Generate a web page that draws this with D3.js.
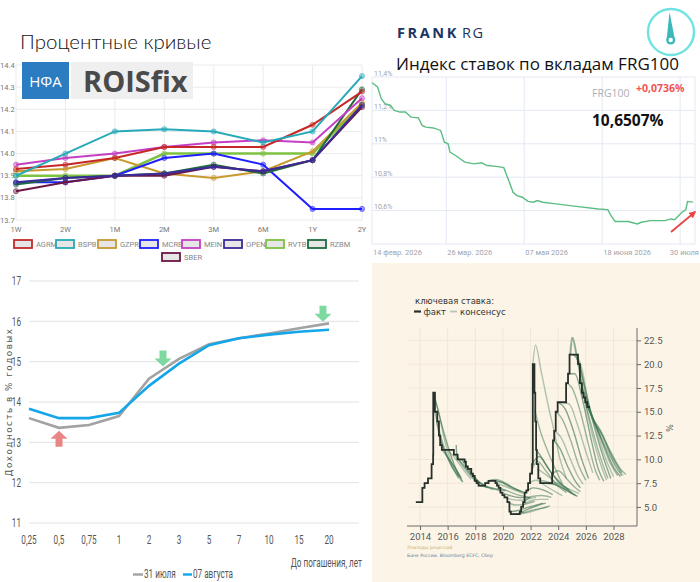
<!DOCTYPE html>
<html>
<head>
<meta charset="utf-8">
<script src="https://cdn.jsdelivr.net/npm/d3@7"></script>
<style>
  body { margin: 0; background: #fff; }
  svg { display: block; }
</style>
</head>
<body>
<svg id="chart" width="700" height="582"></svg>
<script>
// ---------- data: ROISfix curves (top left) ----------
var tenors = ["1W", "2W", "1M", "2M", "3M", "6M", "1Y", "2Y"];
var roisTicks = [13.7, 13.8, 13.9, 14.0, 14.1, 14.2, 14.3, 14.4];
var AGRM = [13.93, 13.95, 13.98, 14.03, 14.03, 14.03, 14.13, 14.28];
var BSPB = [13.90, 14.00, 14.10, 14.11, 14.10, 14.05, 14.10, 14.35];
var GZPR = [13.92, 13.93, 13.98, 13.91, 13.89, 13.92, 14.01, 14.23];
var MCRB = [13.87, 13.87, 13.90, 13.98, 14.00, 13.95, 13.75, 13.75];
var MEIN = [13.95, 13.98, 14.00, 14.03, 14.05, 14.06, 14.05, 14.25];
var OPEN = [13.87, 13.89, 13.90, 13.91, 13.94, 13.92, 13.97, 14.22];
var RVTB = [13.90, 13.90, 13.90, 14.00, 14.00, 14.00, 14.00, 14.22];
var RZBM = [13.86, 13.89, 13.90, 13.91, 13.95, 13.91, 13.97, 14.29];
var SBER = [13.83, 13.87, 13.90, 13.90, 13.94, 13.92, 13.97, 14.21];
var banks = ["AGRM", "BSPB", "GZPR", "MCRB", "MEIN", "OPEN", "RVTB", "RZBM", "SBER"];
var bankValues = [AGRM, BSPB, GZPR, MCRB, MEIN, OPEN, RVTB, RZBM, SBER];
var bankColors = ["#c62828", "#26a9b8", "#c89a2e", "#1f1fff", "#c43fc4", "#3a2a9a", "#7dc242", "#1e6b3c", "#6b1744"];

// ---------- data: FRG100 index (top right) ----------
var frgDates = ["2026-02-14", "2026-02-17", "2026-02-19", "2026-02-21", "2026-02-24", "2026-02-26",
  "2026-03-01", "2026-03-04", "2026-03-07", "2026-03-11", "2026-03-13", "2026-03-15", "2026-03-19",
  "2026-03-23", "2026-03-25", "2026-03-27", "2026-03-28", "2026-03-31", "2026-04-05", "2026-04-10",
  "2026-04-14", "2026-04-17", "2026-04-22", "2026-04-26", "2026-04-29", "2026-05-01", "2026-05-03",
  "2026-05-06", "2026-05-09", "2026-05-12", "2026-05-14", "2026-05-17", "2026-05-24", "2026-06-04",
  "2026-06-16", "2026-06-21", "2026-06-23", "2026-06-25", "2026-07-02", "2026-07-07", "2026-07-09",
  "2026-07-14", "2026-07-22", "2026-07-25", "2026-07-27", "2026-07-31", "2026-08-02", "2026-08-03",
  "2026-08-06"];
var frgValues = [11.366, 11.34, 11.27, 11.24, 11.23, 11.20,
  11.19, 11.19, 11.16, 11.155, 11.11, 11.10, 11.095,
  11.08, 11.01, 11.00, 10.95, 10.93, 10.89, 10.88,
  10.886, 10.87, 10.865, 10.857, 10.77, 10.71, 10.69,
  10.68, 10.655, 10.65, 10.66, 10.65, 10.64, 10.625,
  10.61, 10.606, 10.565, 10.535, 10.535, 10.52, 10.53,
  10.54, 10.54, 10.55, 10.545, 10.59, 10.605, 10.655,
  10.6507];
var frgTickDates = ["2026-02-14", "2026-03-26", "2026-05-07", "2026-06-18", "2026-07-30"];
var frgTickLabels = ["14 февр. 2026", "26 мар. 2026", "07 мая 2026", "18 июня 2026", "30 июля"];
var frgYTicks = [10.4, 10.6, 10.8, 11.0, 11.2, 11.4];
var frgYLabels = ["", "10,6%", "10,8%", "11%", "11,2%", "11,4%"];

// ---------- data: OFZ yield curve (bottom left) ----------
var maturities = ["0,25", "0,5", "0,75", "1", "2", "3", "5", "7", "10", "15", "20"];
var july31 = [13.60, 13.36, 13.43, 13.65, 14.58, 15.07, 15.43, 15.58, 15.70, 15.83, 15.95];
var aug07 = [13.83, 13.60, 13.60, 13.73, 14.40, 14.95, 15.41, 15.58, 15.67, 15.74, 15.79];
var yieldTicks = [11, 12, 13, 14, 15, 16, 17];

// ---------- data: key rate, fact and consensus (bottom right) ----------
var factYears = [2013.7, 2014.17, 2014.33, 2014.58, 2014.84, 2014.95, 2014.96, 2015.08, 2015.25, 2015.37,
  2015.46, 2015.58, 2016.45, 2016.72, 2017.23, 2017.32, 2017.46, 2017.71, 2017.83, 2017.96,
  2018.1, 2018.24, 2018.71, 2018.96, 2019.46, 2019.57, 2019.69, 2019.82, 2019.96, 2020.11,
  2020.32, 2020.47, 2020.57, 2021.22, 2021.32, 2021.46, 2021.57, 2021.7, 2021.82, 2021.96,
  2022.11, 2022.16, 2022.28, 2022.34, 2022.4, 2022.45, 2022.56, 2022.7, 2023.56, 2023.62,
  2023.71, 2023.82, 2023.96, 2024.57, 2024.71, 2024.82, 2025.43, 2025.57, 2025.71, 2025.82,
  2025.96, 2026.1, 2026.3];
var factRates = [5.5, 7.0, 7.5, 8.0, 9.5, 10.5, 17, 15, 14, 12.5,
  11.5, 11, 10.5, 10, 9.75, 9.25, 9.0, 8.5, 8.25, 7.75,
  7.5, 7.25, 7.5, 7.75, 7.5, 7.25, 7.0, 6.5, 6.25, 6.0,
  5.5, 4.5, 4.25, 4.5, 5.0, 5.5, 6.5, 6.75, 7.5, 8.5,
  9.5, 20, 17, 14, 11, 9.5, 8.0, 7.5, 8.5, 12,
  13, 15, 16, 18, 19, 21, 20, 18, 17, 16.5,
  16, 15.5, 15.5];
var consensusCurves = [
  [[2014.97, 17], [2015.2, 15.8], [2015.6, 13.5], [2016.1, 11], [2016.6, 9], [2017.1, 7.6]],
  [[2014.97, 16.5], [2015.3, 15.2], [2015.7, 12.5], [2016.2, 10], [2016.7, 8.5], [2017.0, 7.7]],
  [[2015.08, 15], [2015.4, 13], [2015.8, 11], [2016.3, 9.3], [2016.8, 8]],
  [[2015.2, 14], [2015.5, 12], [2015.9, 10.5], [2016.4, 9.0], [2016.8, 8.2]],
  [[2015.4, 12.5], [2015.8, 10.8], [2016.3, 9.6], [2016.9, 8.2]],
  [[2015.6, 11], [2016.0, 10.2], [2016.5, 9.2], [2017.0, 8.0]],
  [[2016.62, 11.5], [2016.66, 10.5], [2017.2, 9.3], [2017.8, 8.2], [2018.3, 7.5]],
  [[2016.0, 11], [2016.6, 10.0], [2017.2, 8.8], [2017.7, 7.9]],
  [[2016.5, 10.5], [2017.0, 9.5], [2017.7, 8.2], [2018.3, 7.3]],
  [[2017.0, 10], [2017.5, 9.0], [2018.2, 7.7], [2018.9, 7.0]],
  [[2017.4, 9.25], [2018.0, 8.0], [2018.7, 7.2], [2019.3, 6.8]],
  [[2017.8, 8.25], [2018.4, 7.5], [2019.1, 7.0], [2019.8, 6.7]],
  [[2018.2, 7.25], [2018.8, 7.1], [2019.5, 6.9], [2020.2, 6.7]],
  [[2018.7, 7.5], [2019.2, 7.8], [2019.9, 7.6], [2020.6, 7.0], [2021.2, 6.7]],
  [[2018.96, 7.75], [2019.5, 7.9], [2020.2, 7.5], [2020.9, 6.9], [2021.4, 6.6]],
  [[2019.3, 7.75], [2019.9, 7.6], [2020.6, 7.1], [2021.2, 6.7], [2021.6, 6.5]],
  [[2019.5, 7.5], [2020.1, 7.2], [2020.8, 6.8], [2021.5, 6.4]],
  [[2019.7, 7.0], [2020.3, 6.7], [2021.0, 6.3], [2021.6, 6.1], [2022.0, 6.0]],
  [[2019.9, 6.5], [2020.5, 6.2], [2021.2, 6.0], [2021.9, 6.0]],
  [[2020.1, 6.0], [2020.6, 5.8], [2021.3, 5.7], [2022.0, 5.9], [2022.4, 6.0]],
  [[2020.35, 5.5], [2020.9, 5.2], [2021.6, 5.3], [2022.3, 5.6]],
  [[2020.5, 4.5], [2021.0, 4.6], [2021.7, 4.9], [2022.4, 5.2], [2022.9, 5.4]],
  [[2020.6, 4.25], [2021.3, 4.3], [2022.0, 4.5], [2022.7, 4.8], [2023.2, 5.0]],
  [[2020.8, 4.25], [2021.5, 4.4], [2022.2, 4.7], [2022.9, 4.9], [2023.4, 5.1]],
  [[2021.1, 4.25], [2021.7, 4.7], [2022.4, 5.1], [2023.1, 5.4]],
  [[2021.3, 5.0], [2021.9, 5.6], [2022.6, 5.8], [2023.3, 5.8]],
  [[2021.5, 5.5], [2022.1, 6.1], [2022.8, 6.2], [2023.5, 6.0]],
  [[2021.6, 6.5], [2022.2, 7.0], [2022.9, 6.8], [2023.6, 6.3]],
  [[2021.85, 7.5], [2022.4, 7.8], [2023.1, 7.2], [2023.9, 6.5], [2024.3, 6.2]],
  [[2022.0, 8.5], [2022.5, 9.8], [2023.1, 8.8], [2023.9, 7.3], [2024.6, 6.5]],
  [[2022.12, 9.5], [2022.6, 10.3], [2023.3, 9.0], [2024.1, 7.5], [2024.8, 6.8]],
  [[2022.17, 20], [2022.35, 22.0], [2022.8, 19.0], [2023.3, 15.5], [2023.7, 13], [2024.1, 10.2], [2024.6, 8.0]],
  [[2022.3, 15.2], [2022.7, 13.0], [2023.2, 11.0], [2023.7, 9.3], [2024.3, 7.4]],
  [[2022.42, 11], [2022.8, 10.2], [2023.4, 8.8], [2024.2, 7.5], [2025.0, 6.5]],
  [[2022.5, 9.0], [2023.0, 8.5], [2023.8, 7.6], [2024.6, 6.8], [2025.2, 6.3]],
  [[2022.65, 7.8], [2023.3, 7.6], [2024.1, 7.2], [2024.9, 6.5], [2025.3, 6.2]],
  [[2022.9, 7.5], [2023.6, 7.4], [2024.4, 6.9], [2025.0, 6.4], [2025.4, 6.1]],
  [[2023.3, 7.5], [2023.9, 7.5], [2024.6, 7.0], [2025.2, 6.6], [2025.5, 6.4]],
  [[2023.58, 8.5], [2024.0, 8.8], [2024.6, 8.0], [2025.1, 7.2], [2025.6, 6.6]],
  [[2023.64, 12], [2024.1, 11.2], [2024.7, 9.2], [2025.2, 7.8], [2025.6, 7.0]],
  [[2023.72, 13], [2024.2, 12.3], [2024.8, 10.3], [2025.4, 8.3], [2025.8, 7.4]],
  [[2023.85, 15], [2024.3, 14.2], [2024.9, 12.0], [2025.5, 9.3], [2026.0, 7.8]],
  [[2024.0, 16], [2024.5, 15.3], [2025.1, 13.0], [2025.7, 10.0], [2026.2, 8.0]],
  [[2024.3, 16], [2024.8, 15.8], [2025.4, 13.6], [2026.0, 10.8], [2026.5, 8.6]],
  [[2024.6, 18], [2025.0, 17.5], [2025.6, 15], [2026.2, 11.5], [2026.7, 8.8], [2027.0, 7.8]],
  [[2024.75, 19], [2025.2, 19.0], [2025.8, 16.0], [2026.4, 12.0], [2026.9, 9.0], [2027.3, 7.7]],
  [[2024.84, 21], [2024.98, 22.8], [2025.3, 21.0], [2025.8, 17.0], [2026.4, 13.0], [2027.0, 9.8], [2027.5, 7.8]],
  [[2024.9, 21], [2025.05, 22.8], [2025.4, 20.5], [2025.9, 16.5], [2026.5, 13.0], [2027.1, 10.0], [2027.6, 8.0]],
  [[2025.1, 21], [2025.5, 20.2], [2026.0, 16.8], [2026.6, 13.5], [2027.2, 10.5], [2027.8, 8.0]],
  [[2025.35, 21], [2025.7, 19.6], [2026.2, 15.8], [2026.8, 13.0], [2027.4, 10.2], [2028.0, 8.2]],
  [[2025.5, 20], [2025.9, 17.8], [2026.4, 14.8], [2027.0, 12.5], [2027.7, 9.8], [2028.3, 8.3]],
  [[2025.62, 18], [2026.1, 16.0], [2026.6, 14.0], [2027.3, 11.5], [2028.0, 9.2], [2028.5, 8.2]],
  [[2025.76, 17], [2026.2, 15.3], [2026.8, 13.3], [2027.6, 10.8], [2028.3, 8.9], [2028.7, 8.3]],
  [[2025.9, 16.5], [2026.4, 14.6], [2027.0, 13.2], [2027.8, 10.8], [2028.5, 9.0], [2028.9, 8.4]],
  [[2026.05, 16], [2026.5, 14.2], [2027.1, 12.8], [2027.9, 10.3], [2028.6, 8.6]],
  [[2026.2, 15.5], [2026.6, 14.0], [2027.2, 12.4], [2028.0, 9.8], [2028.6, 8.3]]
];
var rateTicks = [5, 7.5, 10, 12.5, 15, 17.5, 20, 22.5];
var yearTicks = [2014, 2016, 2018, 2020, 2022, 2024, 2026, 2028];

var svg = d3.select('#chart');
svg.append('rect').attr('width', 700).attr('height', 582).attr('fill', '#fff');

// condensed text: the bottom-left chart uses a narrow face, squeeze Roboto horizontally
var SQ = 0.68;
function narrowText(g, x, y, str, anchor) {
  return g.append('text')
    .attr('transform', 'scale(' + SQ + ',1)')
    .attr('x', x / SQ).attr('y', y)
    .attr('text-anchor', anchor || 'start')
    .attr('font-family', 'Roboto, sans-serif').attr('font-size', 12).attr('fill', '#555')
    .text(str);
}

// ===================== top left: ROISfix =====================
(function() {
  var g = svg.append('g');
  var x = d3.scalePoint().domain(tenors).range([16, 362]);
  var y = d3.scaleLinear().domain([13.7, 14.4]).range([220, 65]);

  g.selectAll('.hg').data(roisTicks).enter().append('line')
    .attr('x1', 16).attr('x2', 362)
    .attr('y1', function(d){ return y(d); }).attr('y2', function(d){ return y(d); })
    .attr('stroke', '#ebebeb');
  g.selectAll('.vg').data(tenors).enter().append('line')
    .attr('x1', function(d){ return x(d); }).attr('x2', function(d){ return x(d); })
    .attr('y1', 65).attr('y2', 220)
    .attr('stroke', '#ebebeb');

  g.selectAll('.yl').data(roisTicks).enter().append('text')
    .attr('x', 0).attr('y', function(d){ return y(d); }).attr('dy', '0.35em')
    .attr('font-family', 'Roboto, sans-serif').attr('font-size', 7.5).attr('fill', '#777')
    .text(function(d){ return d.toFixed(1); });
  g.selectAll('.xl').data(tenors).enter().append('text')
    .attr('x', function(d){ return x(d); }).attr('y', 232)
    .attr('text-anchor', 'middle')
    .attr('font-family', 'Roboto, sans-serif').attr('font-size', 7.5).attr('fill', '#777')
    .text(function(d){ return d; });

  // logo
  g.append('rect').attr('x', 22).attr('y', 62).attr('width', 47).attr('height', 37).attr('fill', '#2b7cc1');
  g.append('text').attr('x', 45.5).attr('y', 86.5).attr('text-anchor', 'middle')
    .attr('font-family', 'Open Sans, sans-serif').attr('font-size', 15).attr('fill', '#fff').text('НФА');
  g.append('rect').attr('x', 71).attr('y', 62).attr('width', 122).attr('height', 37).attr('fill', '#efefef');
  g.append('text').attr('x', 83).attr('y', 92).attr('font-family', 'Open Sans, sans-serif')
    .attr('font-weight', 'bold').attr('font-size', 29).attr('fill', '#4a4a4a').text('ROISfix');

  var line = d3.line().x(function(d, i){ return x(tenors[i]); }).y(function(d){ return y(d); });
  var order = [6, 2, 3, 7, 8, 5, 4, 0, 1];
  order.forEach(function(k) {
    g.append('path').datum(bankValues[k]).attr('d', line)
      .attr('fill', 'none').attr('stroke', bankColors[k]).attr('stroke-width', k === 6 ? 2.6 : 2);
    g.selectAll('.pt' + k).data(bankValues[k]).enter().append('circle')
      .attr('cx', function(d, i){ return x(tenors[i]); }).attr('cy', function(d){ return y(d); })
      .attr('r', 2.6).attr('fill', bankColors[k]).attr('fill-opacity', 0.45)
      .attr('stroke', bankColors[k]).attr('stroke-opacity', 0.6).attr('stroke-width', 0.8);
  });

  // legend
  banks.forEach(function(b, i) {
    var lx = i < 8 ? 13 + i * 42 : 161;
    var ly = i < 8 ? 244 : 257;
    g.append('rect').attr('x', lx + 1).attr('y', ly - 4).attr('width', 18).attr('height', 8)
      .attr('fill', '#e6e6e6').attr('stroke', bankColors[i]).attr('stroke-width', 1.8);
    g.append('text').attr('x', lx + 23).attr('y', ly).attr('dy', '0.35em')
      .attr('font-family', 'Roboto, sans-serif').attr('font-size', 7.5).attr('fill', '#888').text(b);
  });

  svg.append('text').attr('x', 20).attr('y', 49)
    .attr('font-family', 'Lato, sans-serif').attr('font-weight', 300).attr('font-size', 20.5)
    .attr('fill', '#111').text('Процентные кривые');
})();

// ===================== top right: FRG100 =====================
(function() {
  var g = svg.append('g');
  var parse = d3.timeParse('%Y-%m-%d');
  var x = d3.scaleTime().domain([parse('2026-02-14'), parse('2026-08-07')]).range([372, 695]);
  var y = d3.scaleLinear().domain([10.4, 11.4]).range([244, 77]);

  g.selectAll('.hg').data(frgYTicks).enter().append('line')
    .attr('x1', 372).attr('x2', 695)
    .attr('y1', function(d){ return y(d); }).attr('y2', function(d){ return y(d); })
    .attr('stroke', '#e4e8f2');
  g.selectAll('.vg').data(frgTickDates).enter().append('line')
    .attr('x1', function(d){ return x(parse(d)); }).attr('x2', function(d){ return x(parse(d)); })
    .attr('y1', 77).attr('y2', 244).attr('stroke', '#e4e8f2');
  g.append('line').attr('x1', 695).attr('x2', 695).attr('y1', 77).attr('y2', 244).attr('stroke', '#e4e8f2');

  g.selectAll('.yl').data(frgYTicks).enter().append('text')
    .attr('x', 374).attr('y', function(d){ return y(d) - 1.5; })
    .attr('font-family', 'Roboto, sans-serif').attr('font-size', 7).attr('fill', '#a0a4ac')
    .text(function(d, i){ return frgYLabels[i]; });
  // last date label would run past the right edge: pin it to the edge instead
  g.selectAll('.xl').data(frgTickDates).enter().append('text')
    .attr('x', function(d, i){ return i === 4 ? 699 : x(parse(d)) + 1; }).attr('y', 255)
    .attr('text-anchor', function(d, i){ return i === 4 ? 'end' : 'start'; })
    .attr('font-family', 'Roboto, sans-serif').attr('font-size', 7.5).attr('fill', '#a0a4ac')
    .text(function(d, i){ return frgTickLabels[i]; });

  var line = d3.line()
    .x(function(d, i){ return x(parse(frgDates[i])); })
    .y(function(d){ return y(d); });
  g.append('path').datum(frgValues).attr('d', line)
    .attr('fill', 'none').attr('stroke', '#5cbd84').attr('stroke-width', 1.4);

  // red arrow
  var defs = svg.append('defs');
  defs.append('marker').attr('id', 'redhead').attr('viewBox', '0 0 10 10')
    .attr('refX', 8).attr('refY', 5).attr('markerWidth', 4).attr('markerHeight', 4)
    .attr('orient', 'auto').append('path').attr('d', 'M0,0L10,5L0,10z').attr('fill', '#e84444');
  g.append('line').attr('x1', 671).attr('y1', 232).attr('x2', 695).attr('y2', 212)
    .attr('stroke', '#e84444').attr('stroke-width', 1.8).attr('marker-end', 'url(#redhead)');

  g.append('text').attr('x', 592).attr('y', 97)
    .attr('font-family', 'Open Sans, sans-serif').attr('font-size', 10.5).attr('fill', '#aab0b8').text('FRG100');
  g.append('text').attr('x', 636).attr('y', 92)
    .attr('font-family', 'Open Sans, sans-serif').attr('font-weight', 'bold').attr('font-size', 10.5)
    .attr('fill', '#f05454').text('+0,0736%');
  g.append('text').attr('x', 592).attr('y', 126)
    .attr('font-family', 'Open Sans, sans-serif').attr('font-weight', 'bold').attr('font-size', 15.5)
    .attr('fill', '#111').text('10,6507%');

  // header
  var t = g.append('text').attr('x', 397).attr('y', 37.5)
    .attr('font-family', 'Open Sans, sans-serif').attr('font-size', 14.5).attr('fill', '#1d3461');
  t.append('tspan').attr('font-weight', 'bold').attr('letter-spacing', 2.6).text('FRANK');
  t.append('tspan').attr('dx', 3).attr('letter-spacing', 1.5).text('RG');
  g.append('circle').attr('cx', 671).attr('cy', 32).attr('r', 23)
    .attr('fill', 'none').attr('stroke', '#6fe2e2').attr('stroke-width', 2.4);
  g.append('path').attr('d', 'M669.5,12 L666.8,38 L674.6,38 Z').attr('fill', '#3cb8bb');
  g.append('circle').attr('cx', 670.7).attr('cy', 40).attr('r', 4.6).attr('fill', '#3cb8bb');
  g.append('circle').attr('cx', 670.7).attr('cy', 40).attr('r', 2.2).attr('fill', '#fff');
  g.append('text').attr('x', 396).attr('y', 70)
    .attr('font-family', 'Open Sans, sans-serif').attr('font-size', 17).attr('fill', '#111')
    .text('Индекс ставок по вкладам FRG100');
})();

// ===================== bottom right: key rate =====================
(function() {
  var g = svg.append('g');
  g.append('rect').attr('x', 372).attr('y', 263).attr('width', 328).attr('height', 319).attr('fill', '#fcf5e7');

  var x = d3.scaleLinear().domain([2013.06, 2029.7]).range([407, 637]);
  var y = d3.scaleLinear().domain([3, 23.8]).range([526, 328]);

  g.selectAll('.hg').data(rateTicks).enter().append('line')
    .attr('x1', 407).attr('x2', 637)
    .attr('y1', function(d){ return y(d); }).attr('y2', function(d){ return y(d); })
    .attr('stroke', '#ece3d4').attr('stroke-width', 0.8);
  g.selectAll('.vg').data(yearTicks).enter().append('line')
    .attr('x1', function(d){ return x(d); }).attr('x2', function(d){ return x(d); })
    .attr('y1', 328).attr('y2', 526)
    .attr('stroke', '#ece3d4').attr('stroke-width', 0.8);

  var cline = d3.line().x(function(d){ return x(d[0]); }).y(function(d){ return y(d[1]); })
    .curve(d3.curveMonotoneX);
  var alphas = [0.62, 0.4, 0.5];
  g.selectAll('.cons').data(consensusCurves).enter().append('path')
    .attr('d', cline).attr('fill', 'none')
    .attr('stroke', '#3d7551').attr('stroke-width', 1.4)
    .attr('stroke-opacity', function(d, i){ return alphas[i % 3]; });

  var fline = d3.line().x(function(d, i){ return x(factYears[i]); }).y(function(d){ return y(d); })
    .curve(d3.curveStepAfter);
  g.append('path').datum(factRates).attr('d', fline)
    .attr('fill', 'none').attr('stroke', '#27302a').attr('stroke-width', 1.8);

  // axes
  var ay = d3.axisRight(y).tickValues(rateTicks).tickSize(4).tickFormat(d3.format('.1f'));
  var gy = g.append('g').attr('transform', 'translate(637,0)').call(ay);
  var ax = d3.axisBottom(x).tickValues(yearTicks).tickSize(4).tickFormat(d3.format('d'));
  var gx = g.append('g').attr('transform', 'translate(0,526)').call(ax);
  [gy, gx].forEach(function(a) {
    a.select('.domain').attr('stroke', '#6a6a6a');
    a.selectAll('.tick line').attr('stroke', '#6a6a6a');
    a.selectAll('text').attr('font-family', 'Roboto, sans-serif').attr('font-size', 9.5).attr('fill', '#555');
  });
  gy.select('.domain').attr('d', 'M0,328V526');
  gx.select('.domain').attr('d', 'M407,0H637');

  g.append('text').attr('transform', 'translate(666,428) rotate(90)').attr('text-anchor', 'middle')
    .attr('font-family', 'DejaVu Sans, sans-serif').attr('font-size', 8).attr('fill', '#555').text('%');

  g.append('text').attr('x', 415).attr('y', 304)
    .attr('font-family', 'DejaVu Sans, sans-serif').attr('font-size', 8.5).attr('fill', '#333').text('ключевая ставка:');
  g.append('line').attr('x1', 414).attr('x2', 421).attr('y1', 311.5).attr('y2', 311.5)
    .attr('stroke', '#27302a').attr('stroke-width', 2.2);
  g.append('text').attr('x', 423.5).attr('y', 315)
    .attr('font-family', 'DejaVu Sans, sans-serif').attr('font-size', 8.5).attr('fill', '#333').text('факт');
  g.append('line').attr('x1', 450).attr('x2', 457).attr('y1', 311.5).attr('y2', 311.5)
    .attr('stroke', '#b7c7b6').attr('stroke-width', 1.8);
  g.append('text').attr('x', 460).attr('y', 315)
    .attr('font-family', 'DejaVu Sans, sans-serif').attr('font-size', 8.5).attr('fill', '#333').text('консенсус');

  g.append('text').attr('x', 407).attr('y', 549)
    .attr('font-family', 'DejaVu Sans, sans-serif').attr('font-size', 4.6).attr('fill', '#c8ac62').text('Эпизоды рецессий');
  g.append('text').attr('x', 407).attr('y', 556.5)
    .attr('font-family', 'DejaVu Sans, sans-serif').attr('font-size', 4.6).attr('fill', '#5b7f9e').text('Банк России, Bloomberg ECFC, Сбер');
})();

// ===================== bottom left: OFZ yield curve =====================
(function() {
  var g = svg.append('g');
  var x = d3.scalePoint().domain(maturities).range([29, 329]);
  var y = d3.scaleLinear().domain([11, 17]).range([523, 281]);

  g.selectAll('.hg').data(yieldTicks).enter().append('line')
    .attr('x1', 29).attr('x2', 359)
    .attr('y1', function(d){ return y(d); }).attr('y2', function(d){ return y(d); })
    .attr('stroke', '#e2e2e2').attr('stroke-width', 1);

  yieldTicks.forEach(function(d) {
    narrowText(g, 21, y(d) + 4.2, String(d), 'end');
  });
  maturities.forEach(function(d) {
    narrowText(g, x(d), 544, d, 'middle');
  });

  var line = d3.line().x(function(d, i){ return x(maturities[i]); }).y(function(d){ return y(d); });
  g.append('path').datum(july31).attr('d', line).attr('fill', 'none')
    .attr('stroke', '#a2a2a2').attr('stroke-width', 2.6);
  g.append('path').datum(aug07).attr('d', line).attr('fill', 'none')
    .attr('stroke', '#13a6e8').attr('stroke-width', 2.6);

  // arrows
  function arrow(cx, tipY, dir, color) {
    var hw = 8.5, hl = 8, sw = 3.5, sl = 8;
    var b = tipY + dir * hl, e = b + dir * sl;
    var p = 'M' + cx + ',' + tipY + 'L' + (cx + hw) + ',' + b + 'L' + (cx + sw) + ',' + b +
      'L' + (cx + sw) + ',' + e + 'L' + (cx - sw) + ',' + e + 'L' + (cx - sw) + ',' + b +
      'L' + (cx - hw) + ',' + b + 'Z';
    g.append('path').attr('d', p).attr('fill', color);
  }
  arrow(x('0,5'), y(13.29), 1, '#ea8585');
  arrow((x('2') + x('3')) / 2 - 1, y(14.88), -1, '#7ed9a0');
  arrow(x('20') - 6, y(15.99), -1, '#7ed9a0');

  g.append('text').attr('transform', 'translate(9,402) rotate(-90)').attr('text-anchor', 'middle')
    .attr('dy', '0.35em')
    .attr('font-family', 'DejaVu Sans, sans-serif').attr('font-size', 8.8).attr('letter-spacing', 1.5)
    .attr('fill', '#555').text('Доходность в % годовых');
  narrowText(g, 362, 567, 'До погашения, лет', 'end');

  g.append('line').attr('x1', 133).attr('x2', 143).attr('y1', 574.5).attr('y2', 574.5)
    .attr('stroke', '#a2a2a2').attr('stroke-width', 2.4);
  narrowText(g, 144, 578.5, '31 июля', 'start');
  g.append('line').attr('x1', 183).attr('x2', 192).attr('y1', 574.5).attr('y2', 574.5)
    .attr('stroke', '#13a6e8').attr('stroke-width', 2.4);
  narrowText(g, 193, 578.5, '07 августа', 'start');
})();
</script>
</body>
</html>
